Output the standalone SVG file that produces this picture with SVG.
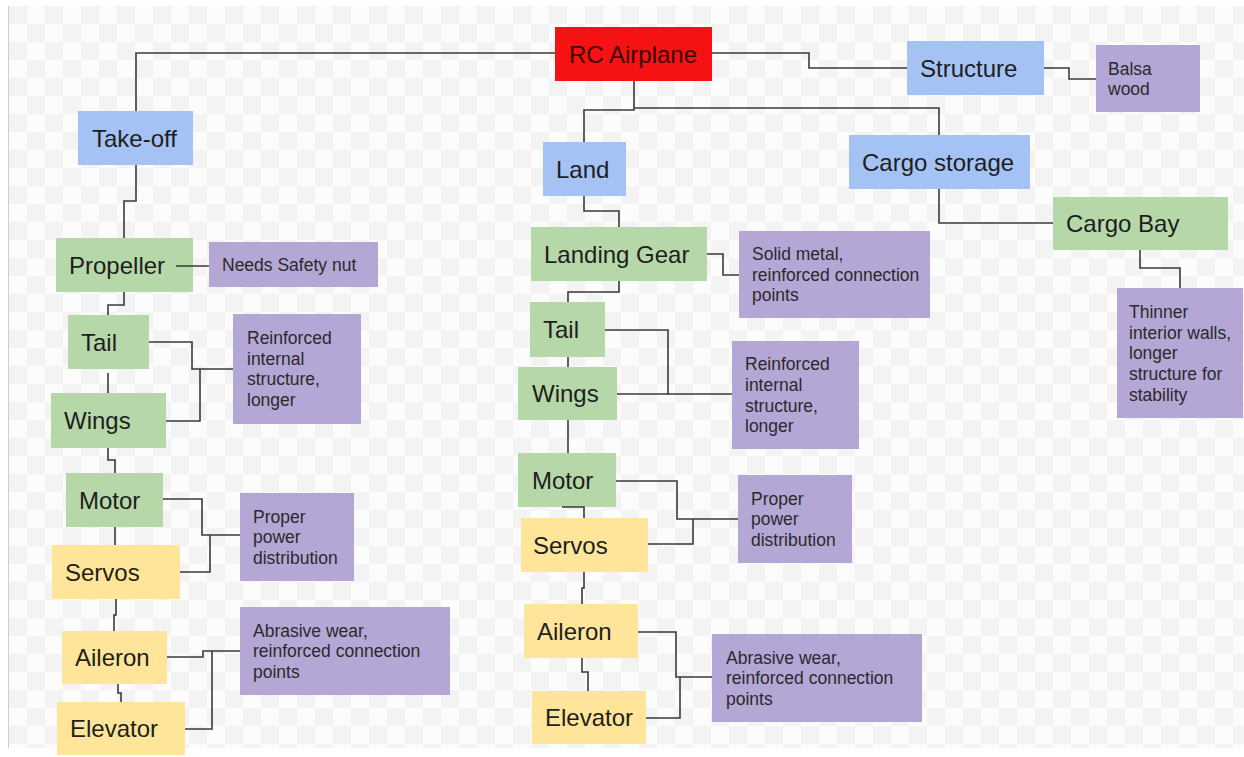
<svg xmlns="http://www.w3.org/2000/svg" width="1244" height="757" viewBox="0 0 1244 757">
<defs>
<pattern id="chk" x="9" y="6" width="36" height="36" patternUnits="userSpaceOnUse">
<rect width="36" height="36" fill="#fcfcfc"/>
<rect width="18" height="18" fill="#f3f3f3"/>
<rect x="18" y="18" width="18" height="18" fill="#f3f3f3"/>
</pattern>
<style>
.c{fill:none;stroke:#3a3a3a;stroke-width:1.6}
.t{font-family:"Liberation Sans",Arial,sans-serif;font-size:24px;fill:#1e1e1e}
.s{font-family:"Liberation Sans",Arial,sans-serif;font-size:17.5px;fill:#2a2a2a}
.red{fill:#f41212}
.blue{fill:#a4c2f4}
.green{fill:#b6d7a8}
.yellow{fill:#ffe599}
.purple{fill:#b4a7d6}
</style>
</defs>
<rect width="1244" height="757" fill="#ffffff"/>
<rect x="9" y="6" width="1235" height="742" fill="url(#chk)"/>
<line x1="8.5" y1="6" x2="8.5" y2="748" stroke="#cfcfcf" stroke-width="1"/>

<g id="rc-airplane"><rect class="red" x="555" y="27" width="157" height="54"/><text class="t" x="569" y="62.6" style="fill:#3a0808">RC Airplane</text></g>
<g id="structure"><rect class="blue" x="907" y="41" width="137" height="54"/><text class="t" x="920" y="76.6">Structure</text></g>
<g id="balsa-wood"><rect class="purple" x="1096" y="45" width="104" height="67"/><text class="s" x="1108" y="74.5"><tspan x="1108">Balsa</tspan><tspan x="1108" dy="20.7">wood</tspan></text></g>
<g id="cargo-storage"><rect class="blue" x="849" y="135" width="181" height="54"/><text class="t" x="862" y="170.6">Cargo storage</text></g>
<g id="cargo-bay"><rect class="green" x="1053" y="197" width="175" height="53"/><text class="t" x="1066" y="232">Cargo Bay</text></g>
<g id="thinner"><rect class="purple" x="1117" y="288" width="126" height="130"/><text class="s" x="1129" y="318"><tspan x="1129">Thinner</tspan><tspan x="1129" dy="20.7">interior walls,</tspan><tspan x="1129" dy="20.7">longer</tspan><tspan x="1129" dy="20.7">structure for</tspan><tspan x="1129" dy="20.7">stability</tspan></text></g>

<g id="take-off"><rect class="blue" x="78" y="111" width="115" height="54"/><text class="t" x="92" y="146.6">Take-off</text></g>
<g id="propeller"><rect class="green" x="56" y="238" width="137" height="54"/><text class="t" x="69" y="273.6">Propeller</text></g>
<g id="needs-safety-nut"><rect class="purple" x="209" y="242" width="169" height="45"/><text class="s" x="222" y="271">Needs Safety nut</text></g>
<g id="tail-1"><rect class="green" x="68" y="315" width="81" height="54"/><text class="t" x="81" y="350.6">Tail</text></g>
<g id="reinforced-1"><rect class="purple" x="233" y="314" width="128" height="110"/><text class="s" x="247" y="344"><tspan x="247">Reinforced</tspan><tspan x="247" dy="20.7">internal</tspan><tspan x="247" dy="20.7">structure,</tspan><tspan x="247" dy="20.7">longer</tspan></text></g>
<g id="wings-1"><rect class="green" x="51" y="393" width="115" height="55"/><text class="t" x="64" y="429">Wings</text></g>
<g id="motor-1"><rect class="green" x="66" y="473" width="97" height="54"/><text class="t" x="79" y="508.6">Motor</text></g>
<g id="proper-1"><rect class="purple" x="240" y="493" width="114" height="88"/><text class="s" x="253" y="522.6"><tspan x="253">Proper</tspan><tspan x="253" dy="20.7">power</tspan><tspan x="253" dy="20.7">distribution</tspan></text></g>
<g id="servos-1"><rect class="yellow" x="52" y="545" width="128" height="54"/><text class="t" x="65" y="580.6">Servos</text></g>
<g id="aileron-1"><rect class="yellow" x="62" y="631" width="105" height="53"/><text class="t" x="75" y="666">Aileron</text></g>
<g id="abrasive-1"><rect class="purple" x="240" y="607" width="210" height="88"/><text class="s" x="253" y="636.6"><tspan x="253">Abrasive wear,</tspan><tspan x="253" dy="20.7">reinforced connection</tspan><tspan x="253" dy="20.7">points</tspan></text></g>
<g id="elevator-1"><rect class="yellow" x="57" y="702" width="128" height="53"/><text class="t" x="70" y="737">Elevator</text></g>

<g id="land"><rect class="blue" x="543" y="142" width="83" height="54"/><text class="t" x="556" y="177.6">Land</text></g>
<g id="landing-gear"><rect class="green" x="531" y="227" width="176" height="54"/><text class="t" x="544" y="262.6">Landing Gear</text></g>
<g id="solid-metal"><rect class="purple" x="739" y="231" width="191" height="87"/><text class="s" x="752" y="260"><tspan x="752">Solid metal,</tspan><tspan x="752" dy="20.7">reinforced connection</tspan><tspan x="752" dy="20.7">points</tspan></text></g>
<g id="tail-2"><rect class="green" x="530" y="302" width="75" height="55"/><text class="t" x="543" y="338">Tail</text></g>
<g id="reinforced-2"><rect class="purple" x="732" y="341" width="127" height="108"/><text class="s" x="745" y="370.3"><tspan x="745">Reinforced</tspan><tspan x="745" dy="20.7">internal</tspan><tspan x="745" dy="20.7">structure,</tspan><tspan x="745" dy="20.7">longer</tspan></text></g>
<g id="wings-2"><rect class="green" x="518" y="367" width="99" height="53"/><text class="t" x="532" y="402">Wings</text></g>
<g id="motor-2"><rect class="green" x="518" y="453" width="98" height="54"/><text class="t" x="532" y="488.6">Motor</text></g>
<g id="proper-2"><rect class="purple" x="738" y="475" width="114" height="88"/><text class="s" x="751" y="504.6"><tspan x="751">Proper</tspan><tspan x="751" dy="20.7">power</tspan><tspan x="751" dy="20.7">distribution</tspan></text></g>
<g id="servos-2"><rect class="yellow" x="521" y="518" width="127" height="54"/><text class="t" x="533" y="553.6">Servos</text></g>
<g id="aileron-2"><rect class="yellow" x="524" y="604" width="114" height="54"/><text class="t" x="537" y="639.6">Aileron</text></g>
<g id="abrasive-2"><rect class="purple" x="712" y="634" width="210" height="88"/><text class="s" x="726" y="663.6"><tspan x="726">Abrasive wear,</tspan><tspan x="726" dy="20.7">reinforced connection</tspan><tspan x="726" dy="20.7">points</tspan></text></g>
<g id="elevator-2"><rect class="yellow" x="532" y="691" width="114" height="53"/><text class="t" x="545" y="726">Elevator</text></g>

<g id="connectors">
<path class="c" d="M555,53 H136 V111"/>
<path class="c" d="M712,53 H809 V68 H907"/>
<path class="c" d="M1044,68 H1069 V79 H1096"/>
<path class="c" d="M634,81 V110 H584 V142"/>
<path class="c" d="M634,108 H939 V135"/>
<path class="c" d="M939,189 V223 H1053"/>
<path class="c" d="M1140,250 V268 H1180 V288"/>
<path class="c" d="M584,196 V211 H619 V227"/>
<path class="c" d="M707,254 H723 V275 H739"/>
<path class="c" d="M619,281 V292 H568 V302"/>
<path class="c" d="M605,330 H668 V394 H732"/>
<path class="c" d="M617,394 H668"/>
<path class="c" d="M568,357 V367"/>
<path class="c" d="M568,420 V453"/>
<path class="c" d="M562,507 H584 V518"/>
<path class="c" d="M616,481 H677 V519 H738"/>
<path class="c" d="M648,544 H693 V519"/>
<path class="c" d="M584,572 V588 H582 V604"/>
<path class="c" d="M638,632 H676 V677 H712"/>
<path class="c" d="M646,718 H680 V677"/>
<path class="c" d="M582,658 V672 H588 V691"/>
<path class="c" d="M136,165 V201 H124 V238"/>
<path class="c" d="M176,266 H209"/>
<path class="c" d="M124,292 V305 H108 V315"/>
<path class="c" d="M149,342 H192 V369 H233"/>
<path class="c" d="M166,421 H200 V369"/>
<path class="c" d="M108,373 V393"/>
<path class="c" d="M108,448 V460 H115 V473"/>
<path class="c" d="M163,499 H202 V535 H240"/>
<path class="c" d="M180,572 H210 V535"/>
<path class="c" d="M115,527 V545"/>
<path class="c" d="M116,599 V615 H114 V631"/>
<path class="c" d="M167,657 H203 V651 H240"/>
<path class="c" d="M185,729 H212 V651"/>
<path class="c" d="M118,684 V693 H121 V702"/>
</g>
</svg>
